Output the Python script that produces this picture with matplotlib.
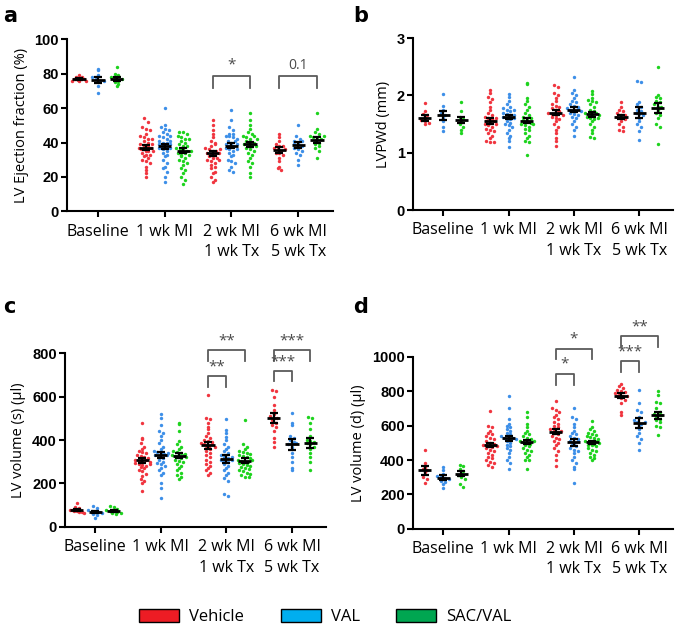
"""
Painel 2x2 de ecocardiografia: pontos individuais (swarm) com média ± EPM
por grupo de tratamento e instante, com colchetes de significância.
"""
import numpy as np
import matplotlib

matplotlib.use("Agg")
import matplotlib.pyplot as plt
from matplotlib.patches import Patch

CATEGORIES = ["Baseline", "1 wk MI", "2 wk MI\n1 wk Tx", "6 wk MI\n5 wk Tx"]
GROUPS = ["Vehicle", "VAL", "SAC/VAL"]
DOT_COLORS = ["#f0353f", "#3d8fe8", "#1ed31e"]
LEGEND_COLORS = ["#ed1c24", "#00aeef", "#00a651"]

# --- a: fração de ejeção (%) ---
EF_VEHICLE = [
    [76, 77, 78, 79, 76.5, 77.5, 78, 75.5, 77, 76],
    [54, 52, 49, 48, 47, 45, 44, 43, 42, 41, 40, 39, 38, 38, 37, 36, 36, 35,
     35, 34, 33, 33, 32, 31, 30, 29, 28, 26, 24, 22, 20, 42, 39, 37, 35],
    [53, 50, 47, 45, 43, 41, 40, 38, 37, 36, 35, 35, 34, 33, 33, 32, 31, 30,
     29, 28, 27, 26, 25, 23, 22, 20, 18, 17, 39, 36, 34, 31, 30],
    [45, 43, 41, 39, 38, 37, 36, 35, 34, 34, 33, 31, 29, 26, 25, 24, 36, 38],
]
EF_VAL = [
    [83, 82, 78, 77, 76, 75, 73, 69, 79, 76],
    [60, 50, 49, 48, 47, 46, 45, 44, 43, 42, 41, 40, 40, 39, 38, 38, 37, 36,
     35, 34, 33, 32, 30, 28, 26, 25, 23, 20, 17, 44, 41, 39, 37],
    [59, 53, 49, 47, 45, 44, 44, 43, 42, 41, 40, 39, 38, 38, 37, 36, 35, 34,
     33, 32, 30, 29, 28, 26, 24, 23, 45, 41, 39, 36],
    [50, 44, 42, 41, 40, 39, 39, 38, 37, 36, 35, 34, 33, 30, 27, 41],
]
EF_SACVAL = [
    [84, 80, 79, 78, 77, 76, 75, 73, 74, 77],
    [46, 46, 45, 44, 43, 42, 41, 40, 39, 38, 37, 36, 36, 35, 35, 34, 33, 32,
     31, 30, 29, 28, 27, 25, 24, 22, 20, 18, 16, 42, 38, 34, 33],
    [57, 53, 50, 48, 46, 45, 44, 43, 42, 41, 40, 39, 39, 38, 37, 36, 35, 34,
     33, 31, 29, 28, 26, 22, 20, 44, 42, 40, 38],
    [57, 48, 46, 45, 44, 43, 42, 42, 41, 40, 39, 38, 37, 35, 31, 44],
]
EF_MEAN = [[77, 76.5, 77], [37, 37.7, 35.3], [33.7, 38.2, 39], [35.5, 38.5, 41.5]]
EF_SEM = [[0.7, 1.7, 1.2], [1.5, 1.7, 1.4], [1.4, 1.4, 1.5], [1.6, 1.6, 1.6]]

# --- b: LVPWd (mm) ---
PW_VEHICLE = [
    [1.87, 1.72, 1.68, 1.65, 1.6, 1.57, 1.55, 1.52, 1.5],
    [2.1, 2.05, 1.98, 1.93, 1.88, 1.8, 1.75, 1.7, 1.65, 1.62, 1.6, 1.58, 1.55,
     1.52, 1.5, 1.48, 1.45, 1.42, 1.4, 1.38, 1.35, 1.3, 1.25, 1.2, 1.18, 1.18,
     1.6, 1.55, 1.5],
    [2.18, 2.15, 2.05, 2.0, 1.95, 1.9, 1.85, 1.82, 1.8, 1.78, 1.75, 1.72, 1.7,
     1.68, 1.65, 1.62, 1.6, 1.58, 1.55, 1.5, 1.45, 1.4, 1.35, 1.25, 1.2, 1.12,
     1.7, 1.65],
    [1.88, 1.8, 1.75, 1.72, 1.7, 1.65, 1.62, 1.6, 1.58, 1.55, 1.5, 1.45, 1.4,
     1.38, 1.65],
]
PW_VAL = [
    [2.02, 1.82, 1.75, 1.7, 1.65, 1.6, 1.55, 1.45, 1.38],
    [2.02, 1.98, 1.9, 1.85, 1.8, 1.78, 1.75, 1.72, 1.7, 1.68, 1.65, 1.62, 1.6,
     1.58, 1.55, 1.52, 1.5, 1.48, 1.45, 1.4, 1.35, 1.3, 1.25, 1.2, 1.1, 1.75,
     1.65, 1.6],
    [2.32, 2.1, 2.05, 2.0, 1.95, 1.9, 1.88, 1.85, 1.82, 1.8, 1.78, 1.75, 1.72,
     1.7, 1.68, 1.65, 1.62, 1.6, 1.55, 1.5, 1.45, 1.4, 1.3, 1.78, 1.72],
    [2.26, 2.24, 1.88, 1.85, 1.8, 1.75, 1.7, 1.68, 1.65, 1.6, 1.55, 1.5, 1.45,
     1.38, 1.22, 1.72],
]
PW_SACVAL = [
    [1.88, 1.72, 1.62, 1.58, 1.55, 1.5, 1.45, 1.4, 1.35],
    [2.22, 2.2, 1.95, 1.9, 1.85, 1.8, 1.75, 1.7, 1.65, 1.62, 1.6, 1.57, 1.55,
     1.52, 1.5, 1.48, 1.45, 1.42, 1.4, 1.35, 1.3, 1.25, 1.2, 1.18, 0.96, 1.6,
     1.5],
    [2.08, 2.02, 1.95, 1.92, 1.9, 1.88, 1.85, 1.8, 1.75, 1.72, 1.7, 1.68, 1.65,
     1.62, 1.6, 1.58, 1.55, 1.5, 1.45, 1.4, 1.35, 1.28, 1.25, 1.7, 1.65, 1.6],
    [2.5, 2.0, 1.98, 1.95, 1.9, 1.88, 1.85, 1.8, 1.75, 1.7, 1.65, 1.6, 1.5,
     1.45, 1.15, 1.8],
]
PW_MEAN = [[1.61, 1.65, 1.57], [1.55, 1.62, 1.56], [1.70, 1.75, 1.67], [1.62, 1.70, 1.78]]
PW_SEM = [[0.05, 0.08, 0.06], [0.05, 0.04, 0.05], [0.05, 0.04, 0.04], [0.04, 0.09, 0.09]]

# --- c: volume sistólico do VE (µl) ---
VS_VEHICLE = [
    [110, 90, 85, 80, 78, 75, 72, 70, 68, 65],
    [480, 410, 405, 385, 370, 360, 350, 345, 340, 330, 325, 320, 315, 310, 305,
     300, 295, 290, 285, 280, 275, 270, 260, 255, 245, 235, 220, 210, 200, 165,
     310, 300, 290],
    [605, 500, 495, 480, 460, 450, 430, 420, 410, 400, 395, 390, 385, 380, 375,
     370, 365, 360, 350, 340, 330, 320, 310, 300, 290, 280, 270, 260, 250, 240,
     380, 370],
    [630, 625, 600, 560, 540, 520, 510, 500, 490, 480, 470, 460, 440, 410, 390,
     370, 500],
]
VS_VAL = [
    [95, 85, 78, 72, 70, 68, 65, 60, 55, 42],
    [520, 500, 470, 440, 430, 420, 400, 385, 370, 360, 350, 345, 340, 335, 330,
     320, 315, 310, 300, 295, 290, 280, 270, 260, 250, 240, 200, 180, 135, 330,
     340],
    [495, 445, 430, 415, 400, 380, 370, 360, 350, 340, 330, 320, 315, 310, 305,
     300, 290, 280, 270, 260, 250, 240, 225, 210, 150, 140, 320, 310],
    [525, 480, 470, 420, 410, 400, 390, 380, 370, 360, 340, 320, 300, 270, 260,
     385],
]
VS_SACVAL = [
    [98, 90, 82, 78, 75, 72, 70, 66, 62, 60],
    [480, 475, 440, 395, 380, 370, 360, 350, 345, 340, 335, 330, 325, 320, 315,
     310, 305, 300, 290, 280, 270, 260, 250, 240, 230, 220, 330, 320],
    [490, 380, 370, 360, 350, 345, 340, 335, 330, 325, 320, 315, 310, 305, 300,
     295, 290, 285, 280, 275, 270, 265, 260, 255, 250, 245, 240, 230, 230, 300,
     310],
    [505, 500, 480, 450, 420, 400, 395, 385, 380, 370, 360, 340, 320, 300, 260,
     390],
]
VS_MEAN = [[77, 70, 73], [307, 330, 327], [375, 313, 305], [500, 380, 385]]
VS_SEM = [[5, 5, 4], [12, 15, 12], [18, 18, 10], [24, 24, 22]]

# --- d: volume diastólico do VE (µl) ---
VD_VEHICLE = [
    [460, 380, 360, 350, 340, 330, 300, 290, 265],
    [685, 600, 590, 570, 560, 550, 540, 530, 520, 510, 500, 495, 490, 485, 480,
     475, 470, 460, 450, 440, 430, 420, 410, 400, 390, 380, 370, 360, 490, 480],
    [745, 700, 690, 680, 660, 650, 640, 620, 610, 600, 590, 580, 570, 565, 560,
     550, 540, 530, 520, 510, 500, 490, 470, 450, 430, 400, 365, 570],
    [845, 830, 820, 810, 800, 795, 790, 780, 775, 770, 760, 750, 730, 680, 660,
     775],
]
VD_VAL = [
    [360, 340, 320, 305, 300, 295, 290, 280, 270, 260, 240],
    [770, 705, 640, 610, 600, 590, 580, 570, 560, 550, 540, 530, 525, 520, 510,
     500, 490, 480, 470, 460, 440, 420, 400, 380, 345, 530, 520],
    [705, 650, 640, 610, 590, 570, 560, 550, 540, 530, 520, 510, 500, 490, 480,
     470, 460, 450, 440, 420, 400, 380, 360, 350, 265, 510],
    [810, 730, 690, 680, 650, 630, 620, 610, 600, 580, 560, 540, 520, 500, 460,
     620],
]
VD_SACVAL = [
    [370, 365, 350, 335, 320, 310, 300, 290, 260, 245],
    [680, 650, 610, 590, 570, 560, 550, 540, 530, 520, 510, 505, 500, 495, 490,
     480, 470, 460, 450, 440, 430, 420, 400, 400, 345, 510],
    [625, 590, 580, 570, 560, 550, 545, 540, 535, 530, 520, 510, 505, 500, 495,
     490, 485, 480, 470, 460, 450, 440, 430, 420, 410, 400, 510, 500],
    [800, 780, 740, 730, 700, 680, 670, 660, 650, 640, 630, 620, 600, 590, 545,
     660],
]
VD_MEAN = [[340, 298, 320], [487, 527, 505], [565, 502, 503], [775, 615, 660]]
VD_SEM = [[25, 12, 15], [14, 15, 12], [16, 18, 10], [14, 28, 22]]

# Colchetes: (categoria, grupo1, grupo2, topo, perna, rótulo, y do texto)
EF_BRACKETS = [(2, 0, 2, 78.5, 72, "*", 80.5), (3, 0, 2, 78.5, 72, "0.1", 80.5)]
VS_BRACKETS = [
    (2, 0, 2, 815, 762, "**", 822), (2, 0, 1, 695, 646, "**", 702),
    (3, 0, 2, 815, 765, "***", 822), (3, 0, 1, 718, 670, "***", 725),
]
VD_BRACKETS = [
    (2, 0, 2, 1048, 985, "*", 1058), (2, 0, 1, 903, 839, "*", 913),
    (3, 0, 2, 1120, 1058, "**", 1130), (3, 0, 1, 975, 911, "***", 985),
]

OFFSET = 0.28          # afastamento dos grupos dentro de cada categoria
LABEL_FONT = "Open Sans"
TICK_FONT = "Liberation Sans"


def swarm_x(vals, center, bin_size, dx=0.058, max_width=0.22):
    """Distribui pontos horizontalmente por faixas de valor (tipo beeswarm)."""
    vals = np.asarray(vals, dtype=float)
    xs = np.empty(len(vals))
    keys = np.round(vals / bin_size).astype(int)
    for k in np.unique(keys):
        idx = np.where(keys == k)[0]
        n = len(idx)
        # Limita a largura da linha para o enxame não invadir o grupo vizinho
        step = min(dx, max_width / (n - 1)) if n > 1 else 0
        xs[idx] = center + (np.arange(n) - (n - 1) / 2) * step
    return xs


def draw_panel(ax, series, means, sems, ymax, yticks, ylabel, bin_size,
               brackets=()):
    for g, data in enumerate(series):
        for c, vals in enumerate(data):
            x0 = c + (g - 1) * OFFSET
            ax.scatter(swarm_x(vals, x0, bin_size), vals, s=6,
                       color=DOT_COLORS[g], linewidths=0, zorder=3)
            m, s = means[c][g], sems[c][g]
            ax.errorbar(x0, m, yerr=s, fmt="none", ecolor="black",
                        elinewidth=1.6, capsize=3, capthick=1.6, zorder=4)
            ax.hlines(m, x0 - 0.1, x0 + 0.1, color="black", lw=2, zorder=4)

    for c, g1, g2, top, leg, label, ytxt in brackets:
        xa, xb = c + (g1 - 1) * OFFSET, c + (g2 - 1) * OFFSET
        ax.plot([xa, xa, xb, xb], [leg, top, top, leg], color="#5a5a5a",
                lw=1.3, clip_on=False)
        ax.text((xa + xb) / 2, ytxt, label, ha="center", va="bottom",
                color="#4a4a4a", fontsize=10 if label == "0.1" else 11,
                family=LABEL_FONT, clip_on=False)

    ax.set_xlim(-0.46, 3.52)
    ax.set_ylim(0, ymax)
    ax.set_yticks(yticks)
    ax.set_xticks(range(len(CATEGORIES)))
    ax.set_xticklabels(CATEGORIES, family=LABEL_FONT, fontsize=11.5,
                       linespacing=1.35)
    for lbl in ax.get_yticklabels():
        lbl.set_family(TICK_FONT)
        lbl.set_fontweight("bold")
        lbl.set_fontsize(10.5)
    ax.set_ylabel(ylabel, family=LABEL_FONT, fontsize=10.5, labelpad=4)
    for side in ("top", "right"):
        ax.spines[side].set_visible(False)
    for side in ("left", "bottom"):
        ax.spines[side].set_linewidth(1.5)
    ax.tick_params(width=1.5, length=4, pad=2)
    ax.tick_params(axis="x", pad=5)


fig = plt.figure(figsize=(6.85, 6.25), dpi=100)
ax_a = fig.add_axes([0.098, 0.662, 0.388, 0.275])
ax_b = fig.add_axes([0.603, 0.664, 0.380, 0.275])
ax_c = fig.add_axes([0.095, 0.157, 0.381, 0.278])
ax_d = fig.add_axes([0.603, 0.154, 0.380, 0.275])

draw_panel(ax_a, [EF_VEHICLE, EF_VAL, EF_SACVAL], EF_MEAN, EF_SEM, 100,
           range(0, 101, 20), "LV Ejection fraction (%)", 2.4, EF_BRACKETS)
draw_panel(ax_b, [PW_VEHICLE, PW_VAL, PW_SACVAL], PW_MEAN, PW_SEM, 3,
           [0, 1, 2, 3], "LVPWd (mm)", 0.07)
draw_panel(ax_c, [VS_VEHICLE, VS_VAL, VS_SACVAL], VS_MEAN, VS_SEM, 800,
           range(0, 801, 200), "LV volume (s) (µl)", 18, VS_BRACKETS)
draw_panel(ax_d, [VD_VEHICLE, VD_VAL, VD_SACVAL], VD_MEAN, VD_SEM, 1000,
           range(0, 1001, 200), "LV volume (d) (µl)", 23, VD_BRACKETS)

# Letras dos painéis
for letter, (x, y) in zip("abcd", [(0.004, 0.99), (0.515, 0.99),
                                   (0.004, 0.525), (0.515, 0.525)]):
    fig.text(x, y, letter, fontsize=15, fontweight="bold", va="top",
             family="DejaVu Sans")

handles = [Patch(facecolor=c, edgecolor="black", linewidth=1.0)
           for c in LEGEND_COLORS]
fig.legend(handles, GROUPS, loc="center", bbox_to_anchor=(0.475, 0.013),
           ncol=3, frameon=False, handlelength=2.4, handleheight=0.85,
           handletextpad=0.6, columnspacing=2.2,
           prop={"family": LABEL_FONT, "size": 12})

fig.savefig("out.png", dpi=100)
